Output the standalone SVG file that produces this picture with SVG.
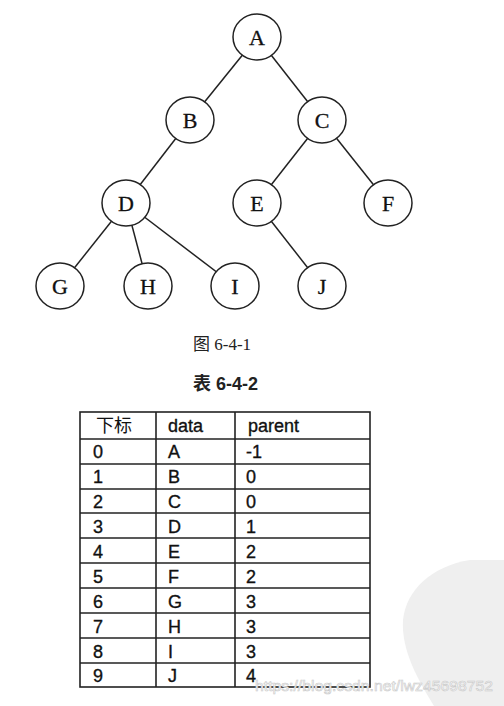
<svg xmlns="http://www.w3.org/2000/svg" width="504" height="706" viewBox="0 0 504 706">
<style>
.node ellipse{fill:#fff;stroke:#222;stroke-width:1.5}
.node text{font-family:"Liberation Serif","Times New Roman",serif;font-size:22px;fill:#111;stroke:#111;stroke-width:0.3;text-anchor:middle}
.edges line{stroke:#222;stroke-width:1.5}
.cap{font-family:"Liberation Serif","Noto Sans CJK SC",serif;font-size:17px;fill:#222}
.tbl line,.tbl rect{stroke:#222;stroke-width:1.6;fill:none}
.tbl text{font-family:"Liberation Sans","Noto Sans CJK SC",sans-serif;font-size:18px;fill:#111;stroke:#111;stroke-width:0.35}
.tbl text.cjk{stroke:none}
.wm{font-family:"Liberation Sans",Arial,sans-serif;font-size:15px;fill:#fff;stroke:#c8c8c8;stroke-width:0.6}
</style>
<rect width="504" height="706" fill="#fff"/>
<path d="M504 560 L470 560 C432 566 406 590 403 620 C401 650 418 680 434 706 L504 706 Z" fill="#efefef"/>
<g id="edges" class="edges">
<line x1="257" y1="37" x2="190" y2="120"/>
<line x1="257" y1="37" x2="322" y2="120"/>
<line x1="190" y1="120" x2="126" y2="203"/>
<line x1="322" y1="120" x2="257" y2="203"/>
<line x1="322" y1="120" x2="388" y2="203"/>
<line x1="126" y1="203" x2="60" y2="286"/>
<line x1="126" y1="203" x2="148" y2="286"/>
<line x1="126" y1="203" x2="235" y2="286"/>
<line x1="257" y1="203" x2="322" y2="286"/>
</g>
<g id="nA" class="node"><ellipse cx="257" cy="37" rx="24" ry="23"/><text x="257" y="45">A</text></g>
<g id="nB" class="node"><ellipse cx="190" cy="120" rx="24" ry="23"/><text x="190" y="128">B</text></g>
<g id="nC" class="node"><ellipse cx="322" cy="120" rx="24" ry="23"/><text x="322" y="128">C</text></g>
<g id="nD" class="node"><ellipse cx="126" cy="203" rx="24" ry="23"/><text x="126" y="211">D</text></g>
<g id="nE" class="node"><ellipse cx="257" cy="203" rx="24" ry="23"/><text x="257" y="211">E</text></g>
<g id="nF" class="node"><ellipse cx="388" cy="203" rx="24" ry="23"/><text x="388" y="211">F</text></g>
<g id="nG" class="node"><ellipse cx="60" cy="286" rx="24" ry="23"/><text x="60" y="294">G</text></g>
<g id="nH" class="node"><ellipse cx="148" cy="286" rx="24" ry="23"/><text x="148" y="294">H</text></g>
<g id="nI" class="node"><ellipse cx="235" cy="286" rx="24" ry="23"/><text x="235" y="294">I</text></g>
<g id="nJ" class="node"><ellipse cx="322" cy="286" rx="24" ry="23"/><text x="322" y="294">J</text></g>
<text class="cap" x="193" y="350">图 6-4-1</text>
<text class="cap" x="193" y="390" font-weight="bold" style="font-family:'Liberation Sans','Noto Sans CJK SC',sans-serif;font-size:18px">表 6-4-2</text>
<g id="table" class="tbl">
<rect x="80" y="412" width="290" height="275"/>
<line x1="156" y1="412" x2="156" y2="687"/>
<line x1="235" y1="412" x2="235" y2="687"/>
<line x1="80" y1="439" x2="370" y2="439"/>
<line x1="80" y1="464" x2="370" y2="464"/>
<line x1="80" y1="489" x2="370" y2="489"/>
<line x1="80" y1="513" x2="370" y2="513"/>
<line x1="80" y1="538" x2="370" y2="538"/>
<line x1="80" y1="563" x2="370" y2="563"/>
<line x1="80" y1="588" x2="370" y2="588"/>
<line x1="80" y1="613" x2="370" y2="613"/>
<line x1="80" y1="638" x2="370" y2="638"/>
<line x1="80" y1="663" x2="370" y2="663"/>
<text class="cjk" x="96" y="432">下标</text><text x="168" y="432">data</text><text x="248" y="432">parent</text>
<text x="93" y="458">0</text><text x="168" y="458">A</text><text x="246" y="458">-1</text>
<text x="93" y="483">1</text><text x="168" y="483">B</text><text x="246" y="483">0</text>
<text x="93" y="508">2</text><text x="168" y="508">C</text><text x="246" y="508">0</text>
<text x="93" y="533">3</text><text x="168" y="533">D</text><text x="246" y="533">1</text>
<text x="93" y="558">4</text><text x="168" y="558">E</text><text x="246" y="558">2</text>
<text x="93" y="583">5</text><text x="168" y="583">F</text><text x="246" y="583">2</text>
<text x="93" y="608">6</text><text x="168" y="608">G</text><text x="246" y="608">3</text>
<text x="93" y="633">7</text><text x="168" y="633">H</text><text x="246" y="633">3</text>
<text x="93" y="658">8</text><text x="168" y="658">I</text><text x="246" y="658">3</text>
<text x="93" y="682">9</text><text x="168" y="682">J</text><text x="246" y="682">4</text>
</g>
<text class="wm" x="255" y="691" textLength="238" lengthAdjust="spacingAndGlyphs">https://blog.csdn.net/lwz45698752</text>
</svg>
